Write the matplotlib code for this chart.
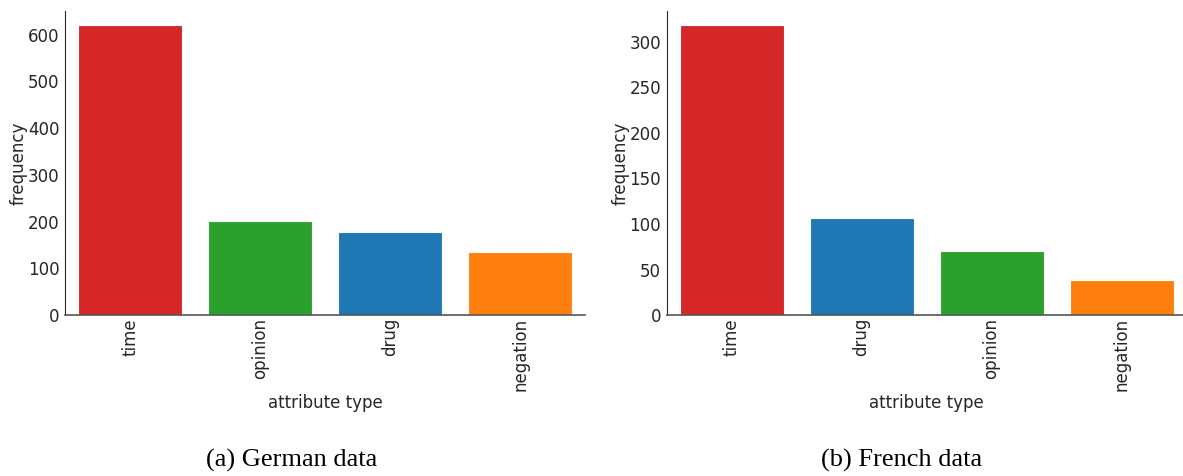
import matplotlib
matplotlib.use("Agg")
import matplotlib.pyplot as plt

# German data
de_cats = ["time", "opinion", "drug", "negation"]
de_vals = [620, 201, 177, 135]
# French data
fr_cats = ["time", "drug", "opinion", "negation"]
fr_vals = [318, 107, 70, 39]

colores = {"time": "#d62728", "opinion": "#2ca02c", "drug": "#1f77b4", "negation": "#ff7f0e"}

plt.rcParams["font.family"] = "DejaVu Sans"
plt.rcParams["text.color"] = "#262626"

fig = plt.figure(figsize=(11.83, 4.76), dpi=100)
ax1 = fig.add_axes([0.055, 0.338, 0.4396, 0.639])
ax2 = fig.add_axes([0.5634, 0.338, 0.4396, 0.639])

for ax, cats, vals in [(ax1, de_cats, de_vals), (ax2, fr_cats, fr_vals)]:
    x = list(range(len(cats)))
    ax.bar(x, vals, width=0.8, color=[colores[c] for c in cats], edgecolor="white", linewidth=0.8)
    ax.set_xlim(-0.5, len(cats) - 0.5)
    ax.set_xticks(x)
    ax.set_xticklabels(cats, rotation=90)
    ax.tick_params(length=0, labelsize=12, colors="#262626")
    ax.tick_params(axis="x", pad=2)
    ax.tick_params(axis="y", pad=4)
    ax.set_ylabel("frequency", fontsize=12, color="#262626", labelpad=0)
    ax.set_xlabel("attribute type", fontsize=12, color="#262626", labelpad=2)
    ax.spines["top"].set_visible(False)
    ax.spines["right"].set_visible(False)
    ax.spines["left"].set_color("#262626")
    ax.spines["bottom"].set_color("#555555")
    ax.spines["bottom"].set_linewidth(1.2)

fig.text(292 / 1183, 1 - 460 / 476, "(a) German data", ha="center", va="center",
         family="Liberation Serif", fontsize=19, color="black")
fig.text(902 / 1183, 1 - 460 / 476, "(b) French data", ha="center", va="center",
         family="Liberation Serif", fontsize=19, color="black")

plt.savefig("out.png", dpi=100)
